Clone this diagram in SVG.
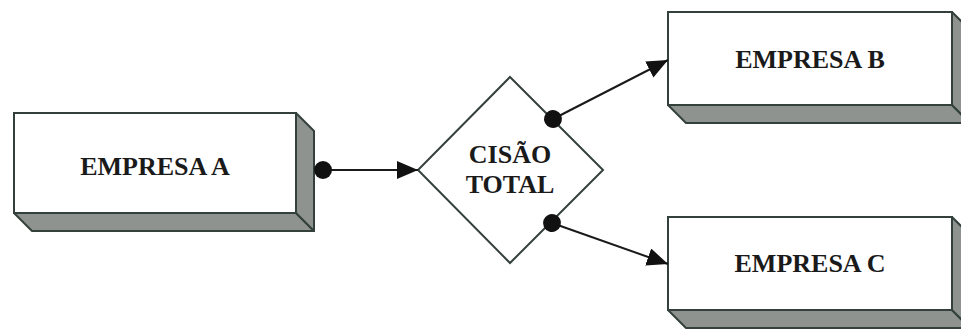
<svg xmlns="http://www.w3.org/2000/svg" width="961" height="329" viewBox="0 0 961 329">
<defs>
<style>
.front{fill:#ffffff;stroke:#34403b;stroke-width:2}
.shade{fill:#8e938f;stroke:#34403b;stroke-width:2;stroke-linejoin:round}
.lbl{font-family:"Liberation Serif","Times New Roman",serif;font-weight:bold;font-size:26px;fill:#1a1a1a;text-anchor:middle}
.conn{stroke:#1a1a1a;stroke-width:2;fill:none}
</style>
<marker id="arr" viewBox="0 0 21 18" refX="21" refY="9" markerWidth="21" markerHeight="18" markerUnits="userSpaceOnUse" orient="auto">
<path d="M0,0 L21,9 L0,18 Z" fill="#111"/>
</marker>
<marker id="dot" viewBox="0 0 20 20" refX="10" refY="10" markerWidth="20" markerHeight="20" markerUnits="userSpaceOnUse" orient="auto">
<circle cx="10" cy="10" r="9" fill="#111"/>
</marker>
</defs>
<rect width="961" height="329" fill="#ffffff"/>
<g id="empresa-a">
<polygon class="shade" points="14,213 296,213 314,231 32,231"/>
<polygon class="shade" points="296,113 314,131 314,231 296,213"/>
<rect class="front" x="14" y="113" width="282" height="100"/>
<text class="lbl" x="155" y="175">EMPRESA A</text>
</g>
<g id="empresa-b">
<polygon class="shade" points="668,105 952,105 970,123 686,123"/>
<polygon class="shade" points="952,12 970,30 970,123 952,105"/>
<rect class="front" x="668" y="12" width="284" height="93"/>
<text class="lbl" x="810" y="68">EMPRESA B</text>
</g>
<g id="empresa-c">
<polygon class="shade" points="668,310 952,310 970,328 686,328"/>
<polygon class="shade" points="952,217 970,235 970,328 952,310"/>
<rect class="front" x="668" y="217" width="284" height="93"/>
<text class="lbl" x="810" y="272">EMPRESA C</text>
</g>
<g id="cisao-total">
<polygon points="510,77 603,170 510,263 418,170" fill="#ffffff" stroke="#34403b" stroke-width="2"/>
<text class="lbl" x="510" y="163" font-size="25">CISÃO</text>
<text class="lbl" x="510" y="193" font-size="25">TOTAL</text>
</g>
<g id="connectors">
<line class="conn" x1="323" y1="170" x2="418" y2="170" stroke-width="3" stroke="#333" marker-start="url(#dot)" marker-end="url(#arr)"/>
<line class="conn" x1="553" y1="119" x2="668" y2="60" marker-start="url(#dot)" marker-end="url(#arr)"/>
<line class="conn" x1="552" y1="223" x2="668" y2="264" marker-start="url(#dot)" marker-end="url(#arr)"/>
</g>
</svg>
